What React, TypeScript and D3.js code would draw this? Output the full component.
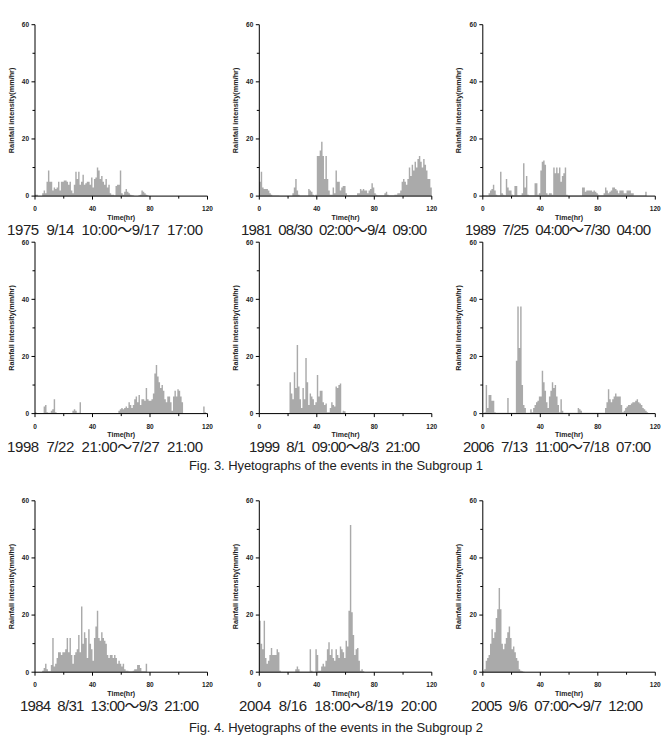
import React from "react";
import * as d3 from "d3";

// ---------- data (hourly rainfall intensity, mm/hr) ----------
const r1975 = [0.5,0.5,0,0,0,1,2,1,5,9,5,5,2,3,2.5,3,5,2,5,5,5.5,5.5,5,4,5,2,1,4,8.5,6,8.5,4,5,7.5,4,4.5,5,5,4,6.5,3,6,6.5,10,9,6,7,5,4,6,3,4,1,0.5,0.5,0.3,3.5,4,4,9,1,0.5,1.5,2.5,1.5,1,0.5,0.3,0.2,0,0,0,0.3,0.5,2,1.5,1,0.5,0.3];
const r1981 = [5,8.5,3,2.5,2.5,2.5,2,1,0.5,0.2,0.2,0.2,0.2,0.2,0.1,0.1,0.1,0.1,0.1,0.1,0.1,0.1,0.1,1,3,6,2,0.5,0.2,0.2,0.2,0.2,0.2,0.2,2.5,2,1.5,0.5,0.2,0.5,14,14,16,19,14,6,14,6,2,0.5,0.5,3,1,9,5,5,2,3,3.5,3.5,1,0.3,0.3,0.3,0.3,0.3,0.3,0.3,1,1,2.5,2,2.5,2,2,1,2,2.5,4.5,3,1,0.5,0.3,0.3,0.3,0.3,0.3,1,1.5,0.5,0.3,0.3,0.3,0.3,0.5,0.5,1,1,2,5,6,5,4,6,10,7,11,9,12,10,13,14,12,10,13,11,9,6,6,3];
const r1989 = [0.2,0.2,0.2,0.2,1,2,2.5,4,2,0.5,0.3,0.3,8.5,1,0.5,0.3,6,3,2,2,0.5,0.3,3.5,3.5,0.3,0.3,0.3,1,11.5,3,7,0.5,0.3,0.3,0.3,0.3,4.5,4.5,0.5,1,9,12,12.5,11,1,0.5,1,1,0.5,10,8,10,8,10,5,7,8,10,0.5,0.2,0.2,0.2,0.2,0.2,0.2,0.2,0.2,0.2,0.2,3,3,1.5,2,2,2,2,1.5,2,1.5,1,0.5,0.3,0.3,0.3,1,3,2,1,1.5,2,3,3,2.5,2,1,2,2,2,1,1,2,2,2,1,1,0.2,0.2,0.2,0.2,0.2,0.2,0.2,0.2,1.5,0,0,0,0,0,0];
const r1998 = [0.5,0.2,0.2,0.2,0.2,0.2,2.5,3,0.5,0.3,0.3,1,1.5,5,0.5,0.2,0.2,0.2,0.2,0.2,0.2,0.2,0.2,0.2,0.2,0.2,1,1.5,1,0.3,0.3,4,0.1,0.1,0.1,0.1,0.1,0.1,0.1,0.1,0.1,0.1,0.1,0.1,0.1,0.1,0.1,0.1,0.1,0.1,0.1,0.1,0.1,0.1,0.1,0.1,0.1,0.1,1,1.5,2,1.5,2,2.5,2,4,3,2,3,5,6,4,6.5,3,5,5,4.5,9,5,4.5,4.5,5,7,14,17,13,11,9,10,8,5,4,6,6,4,1,6,8,6,8.5,8,6,4,0.1,0.1,0.1,0.1,0.1,0.1,0.1,0.1,0.1,0.1,0.1,0.1,0.1,0.1,2.5,0.5,0];
const r1999 = [0.1,0.1,0.1,0.1,0.1,0.1,0.1,0.1,0.1,0.1,0.1,0.1,0.1,0.1,0.1,0.1,0.1,0.1,0.1,0.1,0.1,11,7,5,14.5,9,24,9.5,5,2,9,5,19.5,11,3,7,6,5,3,4,13.5,6,8,8,4,3,3.5,0.5,0.5,2,4,3,2.5,9.5,9,10,10.5,0.3,1,0.8];
const r2006 = [0.2,0.5,10,2,6.5,6.5,4.5,4.5,0.5,0.3,0.3,0.3,0.3,0.3,0.3,0.3,0.3,5.5,0.3,0.3,0.3,0.3,0.3,18.5,37.5,23,37.5,10,3,2,0.3,0.3,0.3,1.5,0.5,2,3,4,4.5,6,6,15,11,8,4,2,6,8,11,9,10,6,3,0.5,5,1,0.3,0.3,0.3,0.3,0.3,0.3,0.3,0.3,0.3,0.3,2,1.5,1,0.3,0.3,0.3,0.3,0.3,0.3,0.3,0.3,0.3,0.3,0.3,0.3,0.3,0.3,0.3,0.3,2,4,8.5,5,4,5,6,7,6,6,6,3,0.5,1,2,2.5,3,3,3.5,4,4,4.5,5,4,3.5,3,2,1.5,1,0.5,0.2];
const r1984 = [0.1,0.1,0.1,0.1,0.1,0.5,1.5,3,1,0.3,0.3,2.5,12,2,3,5,7,7,6,7,7,8,12,7,12,6,3,6,7,8,13,7,23,10,14,12,5,15,10,8,4,12,16,21.5,12,11,14,12,11,10,6,5,6,6,5,6,5,3,4,3,2,3,1,0.5,0.5,0.3,0.3,0.3,0.5,1,1,2.5,2.5,1.5,0.3,0.3,0.3,3,0];
const r2004 = [18,10,8,18,5,3,4,6,8.5,6,6,6,8,7,0.5,0.2,0.2,0.2,0.2,0.2,0.2,0.2,0.2,0.2,0.2,1,2,1,0.2,0.2,0.2,0.2,0.2,0.2,0.2,8,0.5,0.2,0.2,8,6,0.5,0.5,2,3,2,4,8,10.5,6,8,5,4,8,6,5,9,8,7,5,11,9,21.5,51.5,21,13,6,8,8.5,4,0.5,1,0.3,0];
const r2005 = [0.5,1,4,5,6,10,15,12,14,19,22,29.5,22,10,8,10,12,14,16,12,8,9,7,5,4,1,0.5,0.3,0.2];

const captions = [
  "1975  9/14  10:00～9/17  17:00",
  "1981  08/30  02:00～9/4  09:00",
  "1989  7/25  04:00～7/30  04:00",
  "1998  7/22  21:00～7/27  21:00",
  "1999  8/1  09:00～8/3  21:00",
  "2006  7/13  11:00～7/18  07:00",
  "1984  8/31  13:00～9/3  21:00",
  "2004  8/16  18:00～8/19  20:00",
  "2005  9/6  07:00～9/7  12:00",
];
const series = [r1975, r1981, r1989, r1998, r1999, r2006, r1984, r2004, r2005];
const figCaptions = [
  "Fig. 3. Hyetographs of the events in the Subgroup 1",
  "Fig. 4. Hyetographs of the events in the Subgroup 2",
];
const yMajor = [0, 20, 40, 60];
const yMinor = [10, 30, 50];
const xMajor = [0, 40, 80, 120];
const xMinor = [20, 60, 100];

// ---------- layout ----------
const W = 662, H = 737;
const colX = [35, 259.3, 482.8];
const rowY = [24.7, 242.2, 500.8];
const plotW = 172.5, plotH = 171.4;
const capLeft = [[7, 241, 465], [7, 249, 463], [20, 239, 471]];
const capWidth = [[196, 186, 186], [196, 171, 188], [179, 198, 172]];
const figY = [470, 732];
const FONT = "'Liberation Sans', Arial, 'Noto Sans CJK KR', sans-serif";
const BAR = "#aaaaaa";

function Panel({ x0, y0, data, caption, capX, capW }) {
  const xs = d3.scaleLinear().domain([0, 120]).range([x0, x0 + plotW]);
  const ys = d3.scaleLinear().domain([0, 60]).range([y0 + plotH, y0]);
  const base = ys(0);
  // hourly bars drawn as one stepped area so adjacent bars join without seams
  const pts = data.map((v, i) => [i, v]);
  pts.push([data.length, data[data.length - 1]]);
  const area = d3
    .area()
    .x((d) => xs(d[0]))
    .y0(base)
    .y1((d) => ys(d[1]))
    .curve(d3.curveStepAfter);
  return (
    <g>
      <path d={area(pts)} fill={BAR} />
      <line x1={x0} x2={x0} y1={ys(60)} y2={base} stroke="#000" strokeWidth={1} />
      <line x1={x0} x2={x0 + plotW} y1={base} y2={base} stroke="#000" strokeWidth={1} />
      {yMajor.map((t) => (
        <g key={"ym" + t}>
          <line x1={x0 - 3.5} x2={x0} y1={ys(t)} y2={ys(t)} stroke="#000" strokeWidth={1} />
          <text x={x0 - 6} y={ys(t) + 2.3} textAnchor="end" fontSize={6.5} fontWeight="bold" fontFamily={FONT} fill="#222">{t}</text>
        </g>
      ))}
      {yMinor.map((t) => (
        <line key={"yn" + t} x1={x0 - 2.5} x2={x0} y1={ys(t)} y2={ys(t)} stroke="#000" strokeWidth={1} />
      ))}
      {xMajor.map((t) => (
        <g key={"xm" + t}>
          <line x1={xs(t)} x2={xs(t)} y1={base} y2={base + 3.5} stroke="#000" strokeWidth={1} />
          <text x={xs(t)} y={base + 15} textAnchor="middle" fontSize={6.5} fontWeight="bold" fontFamily={FONT} fill="#222">{t}</text>
        </g>
      ))}
      {xMinor.map((t) => (
        <line key={"xn" + t} x1={xs(t)} x2={xs(t)} y1={base} y2={base + 2.5} stroke="#000" strokeWidth={1} />
      ))}
      <text x={x0 + plotW / 2} y={base + 23.5} textAnchor="middle" fontSize={7} fontWeight="bold" fontFamily={FONT} fill="#222">Time(hr)</text>
      <text transform={`translate(${x0 - 21.5},${y0 + plotH / 2}) rotate(-90)`} textAnchor="middle" fontSize={7.3} fontWeight="bold" fontFamily={FONT} fill="#222">Rainfall intensity(mm/hr)</text>
      <text x={capX} y={y0 + 210} fontSize={15} fontFamily={FONT} fill="#222" textLength={capW} lengthAdjust="spacing" style={{ whiteSpace: "pre" }}>{caption}</text>
    </g>
  );
}

export default function App() {
  return (
    <svg width={W} height={H} viewBox={`0 0 ${W} ${H}`} style={{ position: "absolute", left: 0, top: 0, background: "#fff" }}>
      <rect x={0} y={0} width={W} height={H} fill="#fff" />
      {series.map((d, k) => {
        const r = Math.floor(k / 3), c = k % 3;
        return (
          <Panel key={k} x0={colX[c]} y0={rowY[r]} data={d} caption={captions[k]} capX={capLeft[r][c]} capW={capWidth[r][c]} />
        );
      })}
      {figCaptions.map((t, i) => (
        <text key={t} x={336} y={figY[i]} textAnchor="middle" fontSize={13} fontFamily={FONT} fill="#222" textLength={294} lengthAdjust="spacing">{t}</text>
      ))}
    </svg>
  );
}
